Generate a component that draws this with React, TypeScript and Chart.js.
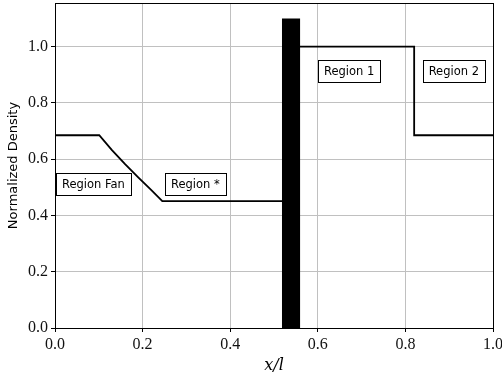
import { useEffect, useRef } from 'react';
import { Chart, registerables } from 'chart.js';

Chart.register(...registerables);

// Density profile (x/l, normalized density)
const densityX = [0.0, 0.101, 0.13, 0.16, 0.19, 0.22, 0.245, 0.54, 0.54, 0.82, 0.82, 1.0];
const densityY = [0.685, 0.685, 0.632, 0.582, 0.535, 0.49, 0.451, 0.451, 1.0, 1.0, 0.685, 0.685];

// Black bar (x extent and height)
const barX = [0.518, 0.518, 0.56, 0.56];
const barY = [0, 1.1, 1.1, 0];

// Region annotations
const regionLabels = ['Region Fan', 'Region *', 'Region 1', 'Region 2'];
const regionX = [0.0876, 0.3204, 0.6716, 0.9105];
const regionY = [0.513, 0.513, 0.914, 0.914];

const X_MIN = 0;
const X_MAX = 1;
const Y_MIN = 0;
const Y_MAX = 1.155;
const TICK_STEP = 0.2;

const align = (p: number) => Math.round(p - 0.5) + 0.5;

const framePlugin = {
  id: 'frameAndLabels',
  afterDatasetsDraw(chart: any) {
    const { ctx, chartArea, scales } = chart;
    ctx.save();
    ctx.strokeStyle = '#000';
    ctx.lineWidth = 1;
    const l = align(chartArea.left);
    const r = align(chartArea.right);
    const t = align(chartArea.top);
    const b = align(chartArea.bottom);
    ctx.strokeRect(l, t, r - l, b - t);

    ctx.font = '11.5px "DejaVu Sans"';
    ctx.textAlign = 'center';
    ctx.textBaseline = 'middle';
    for (let i = 0; i < regionLabels.length; i++) {
      const px = scales.x.getPixelForValue(regionX[i]);
      const py = scales.y.getPixelForValue(regionY[i]);
      const w = ctx.measureText(regionLabels[i]).width + 12;
      const h = 22;
      const bx = Math.round(px - w / 2) + 0.5;
      const by = Math.round(py - h / 2) + 0.5;
      ctx.fillStyle = '#fff';
      ctx.fillRect(bx, by, Math.round(w), h);
      ctx.strokeStyle = '#000';
      ctx.strokeRect(bx, by, Math.round(w), h);
      ctx.fillStyle = '#000';
      ctx.fillText(regionLabels[i], px, py + 1);
    }
    ctx.restore();
  },
};

export default function App() {
  const ref = useRef<HTMLCanvasElement>(null);

  useEffect(() => {
    document.body.style.margin = '0';
    const canvas = ref.current;
    if (!canvas) return;
    const chart = new Chart(canvas, {
      type: 'line',
      data: {
        datasets: [
          {
            label: 'bar',
            data: barX.map((x, i) => ({ x, y: barY[i] })),
            borderColor: 'rgba(0,0,0,0)',
            borderWidth: 0.01,
            backgroundColor: '#000',
            fill: 'origin',
            pointRadius: 0,
            tension: 0,
          },
          {
            label: 'density',
            data: densityX.map((x, i) => ({ x, y: densityY[i] })),
            borderColor: '#000',
            borderWidth: 1.8,
            fill: false,
            pointRadius: 0,
            tension: 0,
          },
        ],
      },
      options: {
        animation: false,
        responsive: false,
        devicePixelRatio: 1,
        layout: { padding: { left: 0, top: 3, right: 9, bottom: 0 } },
        plugins: {
          legend: { display: false },
          tooltip: { enabled: false },
        },
        scales: {
          x: {
            type: 'linear',
            min: X_MIN,
            max: X_MAX,
            afterFit: (s: any) => {
              s.height = 48;
              s.paddingLeft = 0;
              s.paddingRight = 0;
            },
            border: { display: false },
            grid: {
              color: '#c0c0c0',
              lineWidth: 1,
              tickLength: 4,
              tickColor: '#000',
              drawTicks: true,
            },
            ticks: {
              stepSize: TICK_STEP,
              autoSkip: false,
              maxRotation: 0,
              padding: 3,
              color: '#111',
              font: { family: '"Liberation Serif"', size: 16 },
              callback: (v: any) => Number(v).toFixed(1),
            },
            title: {
              display: true,
              text: 'x/l',
              color: '#000',
              font: { family: '"DejaVu Serif"', size: 16, style: 'italic' },
              padding: { top: 0, bottom: 1 },
            },
          },
          y: {
            type: 'linear',
            min: Y_MIN,
            max: Y_MAX,
            afterFit: (s: any) => {
              s.width = 55;
              s.paddingTop = 0;
              s.paddingBottom = 0;
            },
            border: { display: false },
            grid: {
              color: '#c0c0c0',
              lineWidth: 1,
              tickLength: 4,
              tickColor: '#000',
              drawTicks: true,
            },
            ticks: {
              stepSize: TICK_STEP,
              includeBounds: false,
              padding: 3,
              color: '#111',
              font: { family: '"Liberation Serif"', size: 16 },
              callback: (v: any) => Number(v).toFixed(1),
            },
            title: {
              display: true,
              text: 'Normalized Density',
              color: '#000',
              font: { family: '"DejaVu Sans"', size: 13 },
              padding: { top: 5.5, bottom: 0 },
            },
          },
        },
      },
      plugins: [framePlugin],
    });
    return () => chart.destroy();
  }, []);

  return <canvas ref={ref} width={502} height={376} style={{ display: 'block', width: 502, height: 376 }} />;
}
